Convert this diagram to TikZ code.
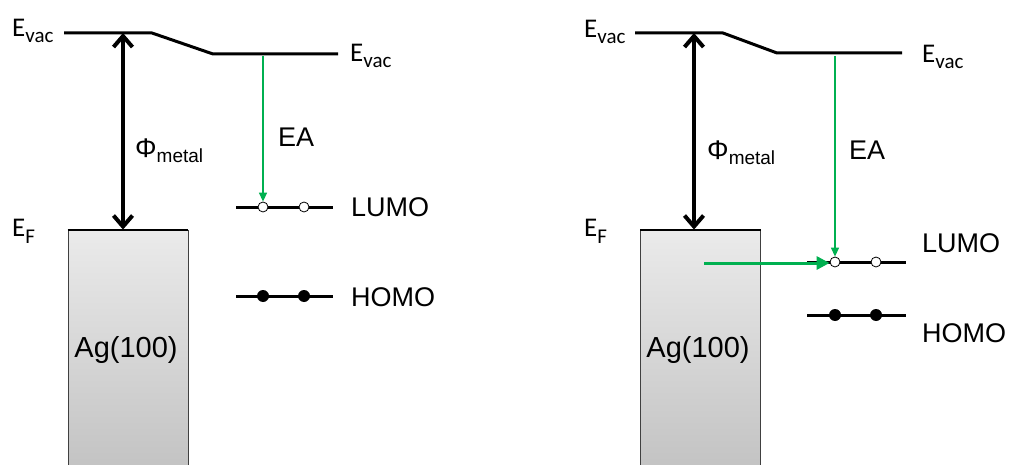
\documentclass[tikz,border=0pt]{standalone}
\usepackage{fontspec}
\setmainfont{Liberation Sans}
\newfontfamily\calfont{Carlito}
\usetikzlibrary{arrows.meta}
\definecolor{pgreen}{RGB}{0,176,80}
\newcommand{\Evac}{{\calfont\fontsize{27}{28}\selectfont E\raisebox{-6pt}{\fontsize{21}{22}\selectfont vac}}}
\newcommand{\EF}{{\calfont\fontsize{27}{28}\selectfont E\raisebox{-7pt}{\fontsize{21}{22}\selectfont F}}}
\newcommand{\Phimetal}{{\fontsize{27}{30}\selectfont Φ\raisebox{-5pt}{\fontsize{19}{21}\selectfont metal}}}
\begin{document}
\begin{tikzpicture}[x=1pt,y=-1pt,
  lbl/.style={inner sep=0pt, anchor=base west, font=\fontsize{27}{30}\selectfont},
  evac/.style={line width=3pt, line join=round},
  level/.style={line width=3pt},
  dbl/.style={line width=4pt, {Straight Barb[length=11pt,width=19pt]}-{Straight Barb[length=11pt,width=19pt]}},
  thin green/.style={draw=pgreen, line width=1.4pt, -{Triangle[length=9pt,width=8pt]}, color=pgreen},
  thick green/.style={draw=pgreen, line width=3pt, -{Triangle[length=13pt,width=13pt]}, color=pgreen},
  ocirc/.style={circle, draw=black, line width=0.8pt, fill=white, minimum size=10pt, inner sep=0pt},
  fcirc/.style={circle, fill=black, minimum size=12pt, inner sep=0pt},
  metalbox/.style={rectangle, draw=black!75, line width=0.8pt, top color=black!8, bottom color=black!24,
    minimum width=120pt, minimum height=245pt, inner sep=0pt, font=\fontsize{29}{32}\selectfont},
]
\useasboundingbox (0,0) rectangle (1011,465);
\clip (0,0) rectangle (1011,465);

% ================= LEFT PANEL =================
\node[metalbox] (mL) at (128,352.5) {};
\node[inner sep=0pt, anchor=base, font=\fontsize{29}{32}\selectfont] (agL) at (126,357) {Ag(100)};
\draw[line width=2pt] (mL.north west) -- (mL.north east);

\coordinate (evL1) at (64,33);
\coordinate (evL2) at (152,33);
\coordinate (evL3) at (213,54);
\coordinate (evL4) at (338,54);
\draw[evac] (evL1) -- (evL2) -- (evL3) -- (evL4);

\coordinate (phL) at (123,33);
\draw[dbl] (phL) -- (phL |- mL.north);

\node[lbl] (evacL1) at (12,37) {\Evac};
\node[lbl] (evacL2) at (350,62) {\Evac};
\node[lbl] (efL) at (12,236) {\EF};
\node[lbl] (phiL) at (135,158) {\Phimetal};
\node[lbl] (eaL) at (278,147) {EA};

\coordinate (lumoLa) at (236,207);
\coordinate (lumoLb) at (333,207);
\draw[level] (lumoLa) -- (lumoLb);
\node[ocirc] (lL1) at (263,207) {};
\node[ocirc] (lL2) at (304,207) {};
\coordinate (homoLa) at (236,296);
\coordinate (homoLb) at (333,296);
\draw[level] (homoLa) -- (homoLb);
\node[fcirc] (hL1) at (263,296) {};
\node[fcirc] (hL2) at (304,296) {};
\node[lbl] (lumoL) at (351,216) {LUMO};
\node[lbl] (homoL) at (351,306) {HOMO};

\coordinate (eaLtop) at (263,56);
\draw[thin green] (eaLtop) -- (lL1.north);

% ================= RIGHT PANEL =================
\node[metalbox] (mR) at (700.5,352.5) {};
\node[inner sep=0pt, anchor=base, font=\fontsize{29}{32}\selectfont] (agR) at (698,357) {Ag(100)};
\draw[line width=2pt] (mR.north west) -- (mR.north east);

\coordinate (evR1) at (635,33);
\coordinate (evR2) at (723,33);
\coordinate (evR3) at (777,53);
\coordinate (evR4) at (902,53);
\draw[evac] (evR1) -- (evR2) -- (evR3) -- (evR4);

\coordinate (phR) at (694,33);
\draw[dbl] (phR) -- (phR |- mR.north);

\node[lbl] (evacR1) at (584,38) {\Evac};
\node[lbl] (evacR2) at (922,63) {\Evac};
\node[lbl] (efR) at (584,236) {\EF};
\node[lbl] (phiR) at (707,160) {\Phimetal};
\node[lbl] (eaR) at (849,160) {EA};

\coordinate (lumoRa) at (807,262);
\coordinate (lumoRb) at (906,262);
\draw[level] (lumoRa) -- (lumoRb);
\coordinate (homoRa) at (807,315);
\coordinate (homoRb) at (906,315);
\draw[level] (homoRa) -- (homoRb);

\coordinate (ctR) at (704,263);
\node[ocirc] (lR1) at (835,262) {};
\node[ocirc] (lR2) at (876,262) {};
\draw[thick green] (ctR) -- (lR1.west |- ctR);
\node[fcirc] (hR1) at (835,315) {};
\node[fcirc] (hR2) at (876,315) {};
\node[lbl] (lumoR) at (922,252) {LUMO};
\node[lbl] (homoR) at (922,342) {HOMO};

\coordinate (eaRtop) at (835,56);
\draw[thin green] (eaRtop) -- (lR1.north);
\end{tikzpicture}
\end{document}
